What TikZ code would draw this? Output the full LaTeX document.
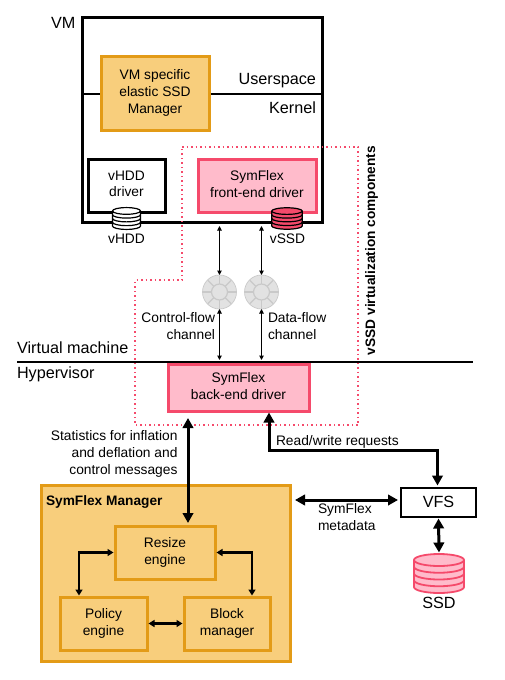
\documentclass[tikz,border=0pt]{standalone}
\usepackage{fontspec}
\setmainfont{Liberation Sans}
\usetikzlibrary{arrows.meta}
\definecolor{ambfill}{HTML}{F8CE7C}
\definecolor{ambline}{HTML}{E39B17}
\definecolor{rosefill}{HTML}{FFBBCB}
\definecolor{roseline}{HTML}{F54A6B}
\definecolor{ringfill}{HTML}{E2E2E2}
\definecolor{ringline}{HTML}{C9C9C9}
\begin{document}
\begin{tikzpicture} [
                    x=1pt, y=-1pt,
                    every node/.style={font=\fontsize{13.8}{17}\selectfont, align=center, inner sep=0pt, outer sep=0pt, execute at begin node={\rule[-3.5pt]{0pt}{17pt}}, execute at end node={\rule[-3.5pt]{0pt}{17pt}}},
                    big/.style={font=\fontsize{16.2}{19}\selectfont},
                    heavy/.style={font=\fontsize{13.7}{17}\selectfont\bfseries},
                    box/.style={draw, line width=3pt},
                    ambbox/.style={draw=ambline, fill=ambfill, line width=3pt},
                    rosebox/.style={draw=roseline, fill=rosefill, line width=3pt},
                    thinlink/.style={line width=1pt, {Triangle[length=4.5pt,width=4.5pt]}-{Triangle[length=4.5pt,width=4.5pt]}},
                    midlink/.style={line width=2.2pt, {Triangle[length=6pt,width=7pt]}-{Triangle[length=6pt,width=7pt]}},
                    fatlink/.style={line width=3pt, {Triangle[length=10pt,width=10.5pt]}-{Triangle[length=10pt,width=10.5pt]}},
                    disk/.pic={
                        \coordinate (-top) at (0,-19.5);
                        \path [pic actions] (-25,-13.5) -- (-25,13.5) arc [start angle=180, end angle=0, x radius=25, y radius=6] -- (25,-13.5) arc [start angle=0, end angle=-180, x radius=25, y radius=6] -- cycle;
                        \foreach \d in {-13.5,-6.75,0,6.75} {
                            \draw [pic actions, fill=none] (-25,\d) arc [start angle=180, end angle=0, x radius=25, y radius=6];
                        }
                    },
                    ring/.pic={
                        \node (-c) [circle, fill=ringfill, draw=ringline, line width=0.7pt, minimum size=34pt] {};
                        \foreach \a in {0,45,...,315} {
                            \draw [ringline, line width=1.2pt] (\a:8) -- (\a:16.5);
                        }
                        \draw [ringline, line width=1.2pt] (0,0) circle [radius=8];
                    }
                ]
                \useasboundingbox (0,0) rectangle (504,680);
                % guest side
                \node (vm) at (202,119.5) [box, minimum width=240pt, minimum height=205pt] {};
                \coordinate (userkern) at (82,94);
                \draw [line width=2.6pt] (userkern) -- (userkern -| vm.east);
                \node (vmlabel) at (51,23) [anchor=west, big] {VM};
                \node (userlabel) at (316,79) [anchor=east, big] {Userspace};
                \node (kernlabel) at (316,108) [anchor=east, big] {Kernel};
                \node (elastic) at (155,93) [ambbox, minimum width=108pt, minimum height=74pt] {VM specific\\elastic SSD\\Manager};
                \node (vhdddrv) at (126.5,185.5) [box, minimum width=77pt, minimum height=53pt] {vHDD\\driver};
                \node (frontdrv) at (257,185.5) [rosebox, minimum width=118pt, minimum height=53pt] {SymFlex\\front-end driver};
                \pic (vhdd) at (126.5,218.5) [scale=0.56, draw=black, fill=white, line width=1.2pt] {disk};
                \pic (vssd) at (287,218.5) [xscale=0.61, yscale=0.55, draw=black, fill=roseline, line width=1.2pt] {disk};
                \node (vhddlabel) at (126.5,238.5) {vHDD};
                \node (vssdlabel) at (287.5,238.5) {vSSD};
                % channels
                \pic (ctlring) at (219.5,292) {ring};
                \pic (dataring) at (261.5,292) {ring};
                \node (ctllabel) at (215,327.5) [anchor=east, align=right] {Control-flow\\channel};
                \node (datalabel) at (268,327.5) [anchor=west, align=left] {Data-flow\\channel};
                \coordinate (vmfoot) at (219.5,226);
                \draw [thinlink] (vmfoot) -- (ctlring-c.north);
                \draw [thinlink] (vmfoot -| dataring-c.north) -- (dataring-c.north);
                % boundary
                \node (vmline) at (17,348) [anchor=west, big] {Virtual machine};
                \node (hvline) at (17,373) [anchor=west, big] {Hypervisor};
                \coordinate (hvleft) at (17,362);
                \coordinate (hvright) at (473,362);
                \draw [line width=1.5pt] (hvleft) -- (hvright);
                \node (backdrv) at (238.5,387.5) [rosebox, minimum width=141pt, minimum height=47pt] {SymFlex\\back-end driver};
                \coordinate (backtop) at (219.5,360);
                \draw [thinlink] (ctlring-c.south) -- (backtop);
                \draw [thinlink] (dataring-c.south) -- (backtop -| dataring-c.south);
                \draw [roseline, line width=1.5pt, dash pattern=on 1.5pt off 3pt] (182,147) -- (358,147) -- (358,425) -- (135,425) -- (135,280) -- (182,280) -- cycle;
                \node (vcomp) at (370,250.5) [rotate=90, heavy] {vSSD virtualization components};
                % manager
                \node (manager) at (165.5,573) [ambbox, minimum width=249pt, minimum height=176pt] {};
                \node (mgrlabel) at (46,500) [anchor=west, heavy] {SymFlex Manager};
                \node (resize) at (165,552.5) [ambbox, minimum width=100pt, minimum height=53pt] {Resize\\engine};
                \node (policy) at (103.5,623.5) [ambbox, minimum width=87pt, minimum height=53pt] {Policy\\engine};
                \node (block) at (227,623.5) [ambbox, minimum width=86pt, minimum height=53pt] {Block\\manager};
                \draw [midlink] ([xshift=-1.5pt]resize.west) -| ([xshift=-24.5pt,yshift=1.5pt]policy.north);
                \draw [midlink] ([xshift=1.5pt]resize.east) -| ([xshift=25pt,yshift=1.5pt]block.north);
                \draw [midlink] ([xshift=1.5pt]policy.east) -- ([xshift=-1.5pt]block.west);
                \node (statlabel) at (177.5,454) [anchor=east, align=right] {Statistics for inflation\\and deflation and\\control messages};
                \coordinate (statfoot) at (188,418);
                \draw [fatlink] (statfoot) -- ([xshift=23pt,yshift=3pt]resize.north);
                % storage
                \node (vfs) at (438.5,502) [draw, line width=2pt, minimum width=75pt, minimum height=29pt, big] {VFS};
                \pic (ssd) at (439,573.5) [draw=roseline, fill=rosefill, line width=1.8pt] {disk};
                \node (ssdlabel) at (439,603) [big] {SSD};
                \draw [fatlink] ([yshift=-2pt]vfs.south) -- ([yshift=1.5pt]ssd-top);
                \draw [fatlink] ([xshift=30.5pt,yshift=-1.5pt]backdrv.south) |- (336,450.5) -| ([xshift=-1pt,yshift=2pt]vfs.north);
                \node (rwlabel) at (276,440) [anchor=west] {Read/write requests};
                \draw [fatlink] ([xshift=5pt,yshift=2pt]manager.east |- vfs.west) -- ([xshift=-3pt,yshift=2pt]vfs.west);
                \node (metalabel) at (318,518.5) [anchor=west, align=left] {SymFlex\\metadata};
                \end{tikzpicture}
\end{document}
